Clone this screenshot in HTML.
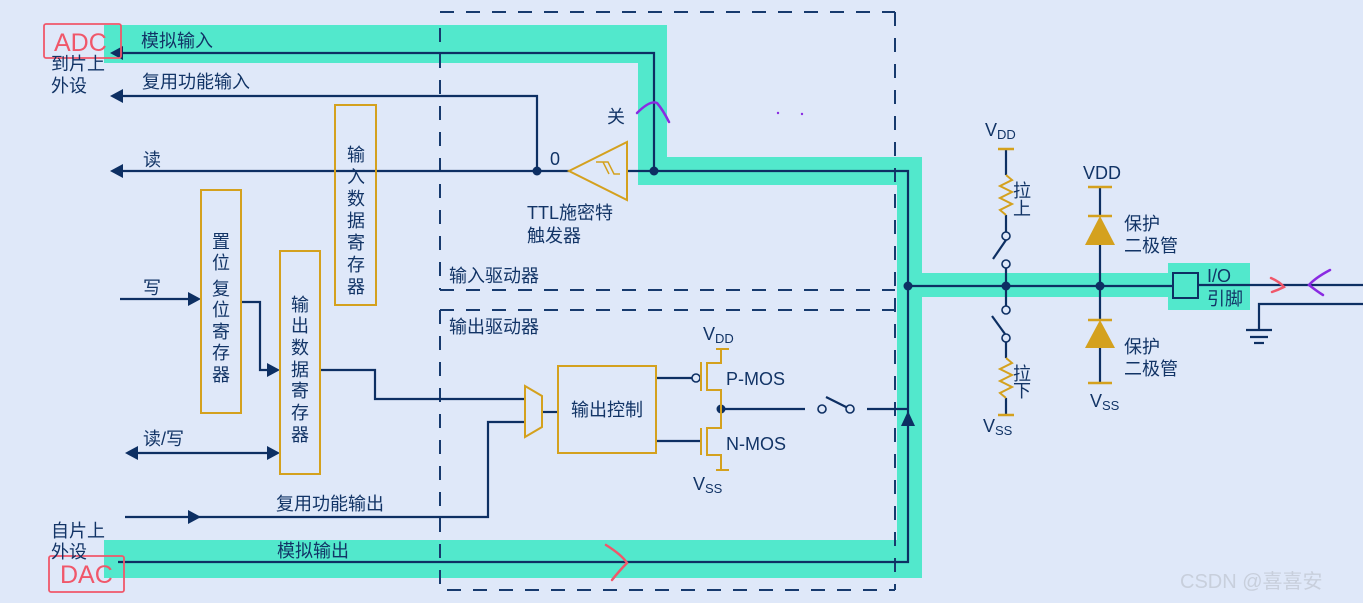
<!DOCTYPE html>
<html><head><meta charset="utf-8"><style>
html,body{margin:0;padding:0;background:#dfe8f9;}
svg{display:block;}
text{font-family:"Liberation Sans","Noto Sans CJK SC",sans-serif;fill:#123466;font-size:18px;}
</style></head><body>
<svg width="1363" height="603" viewBox="0 0 1363 603" xmlns="http://www.w3.org/2000/svg">
<rect width="1363" height="603" fill="#dfe8f9"/>
<g fill="#52e8cc">
<rect x="104" y="25" width="563" height="38"/>
<rect x="638" y="25" width="29" height="160"/>
<rect x="638" y="157" width="284" height="28"/>
<rect x="897" y="157" width="25" height="421"/>
<rect x="922" y="273" width="250" height="24"/>
<rect x="1168" y="263" width="82" height="47"/>
<rect x="104" y="540" width="818" height="38"/>
</g>
<g stroke="#173a6e" stroke-width="2" fill="none" stroke-dasharray="14,12">
<line x1="440" y1="12" x2="895" y2="12"/>
<line x1="440" y1="28" x2="440" y2="290"/>
<line x1="440" y1="290" x2="895" y2="290"/>
<line x1="895" y1="12" x2="895" y2="590"/>
<line x1="440" y1="310" x2="895" y2="310"/>
<line x1="440" y1="310" x2="440" y2="590"/>
<line x1="447" y1="590" x2="895" y2="590"/>
</g>
<g stroke="#0d2f63" stroke-width="2.2" fill="none">
<polyline points="118,53 654,53 654,171"/>
<polyline points="118,96 537,96 537,171"/>
<line x1="118" y1="171" x2="569" y2="171"/>
<polyline points="627,171 908,171 908,562 118,562"/>
<line x1="908" y1="286" x2="1173" y2="286"/>
<line x1="1198" y1="285" x2="1363" y2="285"/>
<polyline points="1363,304 1259,304 1259,330"/>
<line x1="1246" y1="330" x2="1272" y2="330"/>
<line x1="1250" y1="337" x2="1268" y2="337"/>
<line x1="1254" y1="343" x2="1264" y2="343"/>
<line x1="120" y1="299" x2="195" y2="299"/>
<polyline points="241,302 260,302 260,370 274,370"/>
<line x1="132" y1="453" x2="274" y2="453"/>
<polyline points="320,370 375,370 375,399 525,399"/>
<polyline points="125,517 488,517 488,422 525,422"/>
<line x1="542" y1="412" x2="558" y2="412"/>
<line x1="656" y1="378" x2="692" y2="378"/>
<line x1="656" y1="441" x2="701" y2="441"/>
<line x1="721" y1="409" x2="805" y2="409"/>
<line x1="826" y1="397" x2="848" y2="408"/>
<line x1="867" y1="409" x2="908" y2="409"/>
<line x1="1006" y1="149" x2="1006" y2="175"/>
<line x1="1006" y1="215" x2="1006" y2="232"/>
<line x1="1006" y1="240" x2="993" y2="259"/>
<line x1="1006" y1="268" x2="1006" y2="306"/>
<line x1="992" y1="316" x2="1005" y2="334"/>
<line x1="1006" y1="342" x2="1006" y2="358"/>
<line x1="1006" y1="398" x2="1006" y2="415"/>
<line x1="1100" y1="187" x2="1100" y2="216"/>
<line x1="1100" y1="245" x2="1100" y2="320"/>
<line x1="1100" y1="347" x2="1100" y2="383"/>
</g>
<g stroke="#0d2f63" stroke-width="1.6" fill="#dfe8f9">
<circle cx="696" cy="378" r="4"/>
<circle cx="822" cy="409" r="4"/>
<circle cx="850" cy="409" r="4"/>
<circle cx="1006" cy="236" r="4"/>
<circle cx="1006" cy="264" r="4"/>
<circle cx="1006" cy="310" r="4"/>
<circle cx="1006" cy="338" r="4"/>
</g>
<rect x="1173" y="273" width="25" height="25" fill="#52e8cc" stroke="#0d2f63" stroke-width="2"/>
<g fill="#0d2f63">
<polygon points="110,53 123,46 123,60"/>
<polygon points="110,96 123,89 123,103"/>
<polygon points="110,171 123,164 123,178"/>
<polygon points="201,299 188,292 188,306"/>
<polygon points="280,370 267,363 267,377"/>
<polygon points="125,453 138,446 138,460"/>
<polygon points="280,453 267,446 267,460"/>
<polygon points="201,517 188,510 188,524"/>
<polygon points="908,411 901,426 915,426"/>
<circle cx="537" cy="171" r="4.5"/>
<circle cx="654" cy="171" r="4.5"/>
<circle cx="908" cy="286" r="4.5"/>
<circle cx="1006" cy="286" r="4.5"/>
<circle cx="1100" cy="286" r="4.5"/>
<circle cx="721" cy="409" r="4.5"/>
</g>
<g stroke="#d4a11e" stroke-width="2" fill="none">
<rect x="335" y="105" width="41" height="200"/>
<rect x="201" y="190" width="40" height="223"/>
<rect x="280" y="251" width="40" height="223"/>
<rect x="558" y="366" width="98" height="87"/>
<polygon points="525,386 542,396 542,427 525,437"/>
<polygon points="569,171 627,142 627,200"/>
<polyline points="596,162 608,162 614,174 620,174" stroke-width="1.5"/>
<line x1="603" y1="162" x2="609" y2="174" stroke-width="1.5"/>
<line x1="701" y1="362" x2="701" y2="391"/>
<polyline points="721,349 721,363 707,363 707,390 721,390 721,409"/>
<line x1="716" y1="349" x2="729" y2="349"/>
<line x1="701" y1="428" x2="701" y2="455"/>
<polyline points="721,409 721,428 707,428 707,455 721,455 721,470"/>
<line x1="716" y1="470" x2="729" y2="470"/>
<line x1="998" y1="149" x2="1014" y2="149" stroke-width="2.5"/>
<polyline points="1006,175 1012,180 1000,186 1012,192 1000,198 1012,204 1000,210 1006,215"/>
<polyline points="1006,358 1012,363 1000,369 1012,375 1000,381 1012,387 1000,393 1006,398"/>
<line x1="998" y1="415" x2="1014" y2="415" stroke-width="2.5"/>
<line x1="1088" y1="187" x2="1112" y2="187" stroke-width="2.5"/>
<line x1="1088" y1="216" x2="1112" y2="216" stroke-width="2.5"/>
<line x1="1088" y1="320" x2="1112" y2="320" stroke-width="2.5"/>
<line x1="1088" y1="383" x2="1112" y2="383" stroke-width="2.5"/>
</g>
<g fill="#d4a11e">
<polygon points="1100,216 1085,245 1115,245"/>
<polygon points="1100,320 1085,348 1115,348"/>
</g>
<rect x="44" y="24" width="77" height="34" fill="none" stroke="#f0576a" stroke-width="1.8" rx="2"/>
<rect x="49" y="556" width="75" height="36" fill="none" stroke="#f0576a" stroke-width="1.8" rx="2"/>
<text x="54" y="51" style="fill:#f0576a;font-size:25px">ADC</text>
<text x="60" y="583" style="fill:#f0576a;font-size:25px">DAC</text>
<g stroke-width="2.5" fill="none" stroke-linecap="round">
<path d="M637,113 Q650,100 657,103 Q663,110 669,122" stroke="#8a2be2"/>
<path d="M606,545 Q622,555 627,563 Q620,570 612,580" stroke="#f0576a"/>
<path d="M1271,278 Q1280,282 1284,287 Q1278,290 1272,292" stroke="#f0576a"/>
<path d="M1330,270 Q1315,278 1309,285 Q1318,292 1323,295" stroke="#8a2be2"/>
</g>
<circle cx="778" cy="113" r="1.2" fill="#8a2be2"/><circle cx="802" cy="114" r="1.2" fill="#8a2be2"/>
<text x="141" y="47">模拟输入</text>
<text x="51" y="70">到片上</text>
<text x="51" y="92">外设</text>
<text x="142" y="88">复用功能输入</text>
<text x="143" y="166">读</text>
<text x="143" y="294">写</text>
<text x="143" y="445">读/写</text>
<text x="276" y="510">复用功能输出</text>
<text x="51" y="537">自片上</text>
<text x="51" y="558">外设</text>
<text x="277" y="557">模拟输出</text>
<text x="550" y="165">0</text>
<text x="607" y="123">关</text>
<text x="527" y="219">TTL施密特</text>
<text x="527" y="242">触发器</text>
<text x="449" y="282">输入驱动器</text>
<text x="449" y="333">输出驱动器</text>
<text x="571" y="416">输出控制</text>
<text x="726" y="385">P-MOS</text>
<text x="726" y="450">N-MOS</text>
<text x="703" y="340">V<tspan font-size="13" dy="3">DD</tspan></text>
<text x="693" y="490">V<tspan font-size="13" dy="3">SS</tspan></text>
<text x="985" y="136">V<tspan font-size="13" dy="3">DD</tspan></text>
<text x="983" y="432">V<tspan font-size="13" dy="3">SS</tspan></text>
<text x="1083" y="179">VDD</text>
<text x="1090" y="407">V<tspan font-size="13" dy="3">SS</tspan></text>
<text x="1013" y="197">拉</text><text x="1013" y="215">上</text>
<text x="1013" y="380">拉</text><text x="1013" y="397">下</text>
<text x="1124" y="230">保护</text><text x="1124" y="252">二极管</text>
<text x="1124" y="353">保护</text><text x="1124" y="375">二极管</text>
<text x="1207" y="282">I/O</text>
<text x="1207" y="305">引脚</text>
<g>
<text x="347" y="161">输</text><text x="347" y="183">入</text><text x="347" y="205">数</text><text x="347" y="227">据</text><text x="347" y="249">寄</text><text x="347" y="271">存</text><text x="347" y="293">器</text>
<text x="212" y="248">置</text><text x="212" y="269">位</text><text x="212" y="295">复</text><text x="212" y="316">位</text><text x="212" y="338">寄</text><text x="212" y="359">存</text><text x="212" y="381">器</text>
<text x="291" y="311">输</text><text x="291" y="332">出</text><text x="291" y="354">数</text><text x="291" y="376">据</text><text x="291" y="397">寄</text><text x="291" y="419">存</text><text x="291" y="441">器</text>
</g>
<text x="1180" y="588" style="fill:#c8cfdc;font-size:20px">CSDN @喜喜安</text>
</svg>
</body></html>
